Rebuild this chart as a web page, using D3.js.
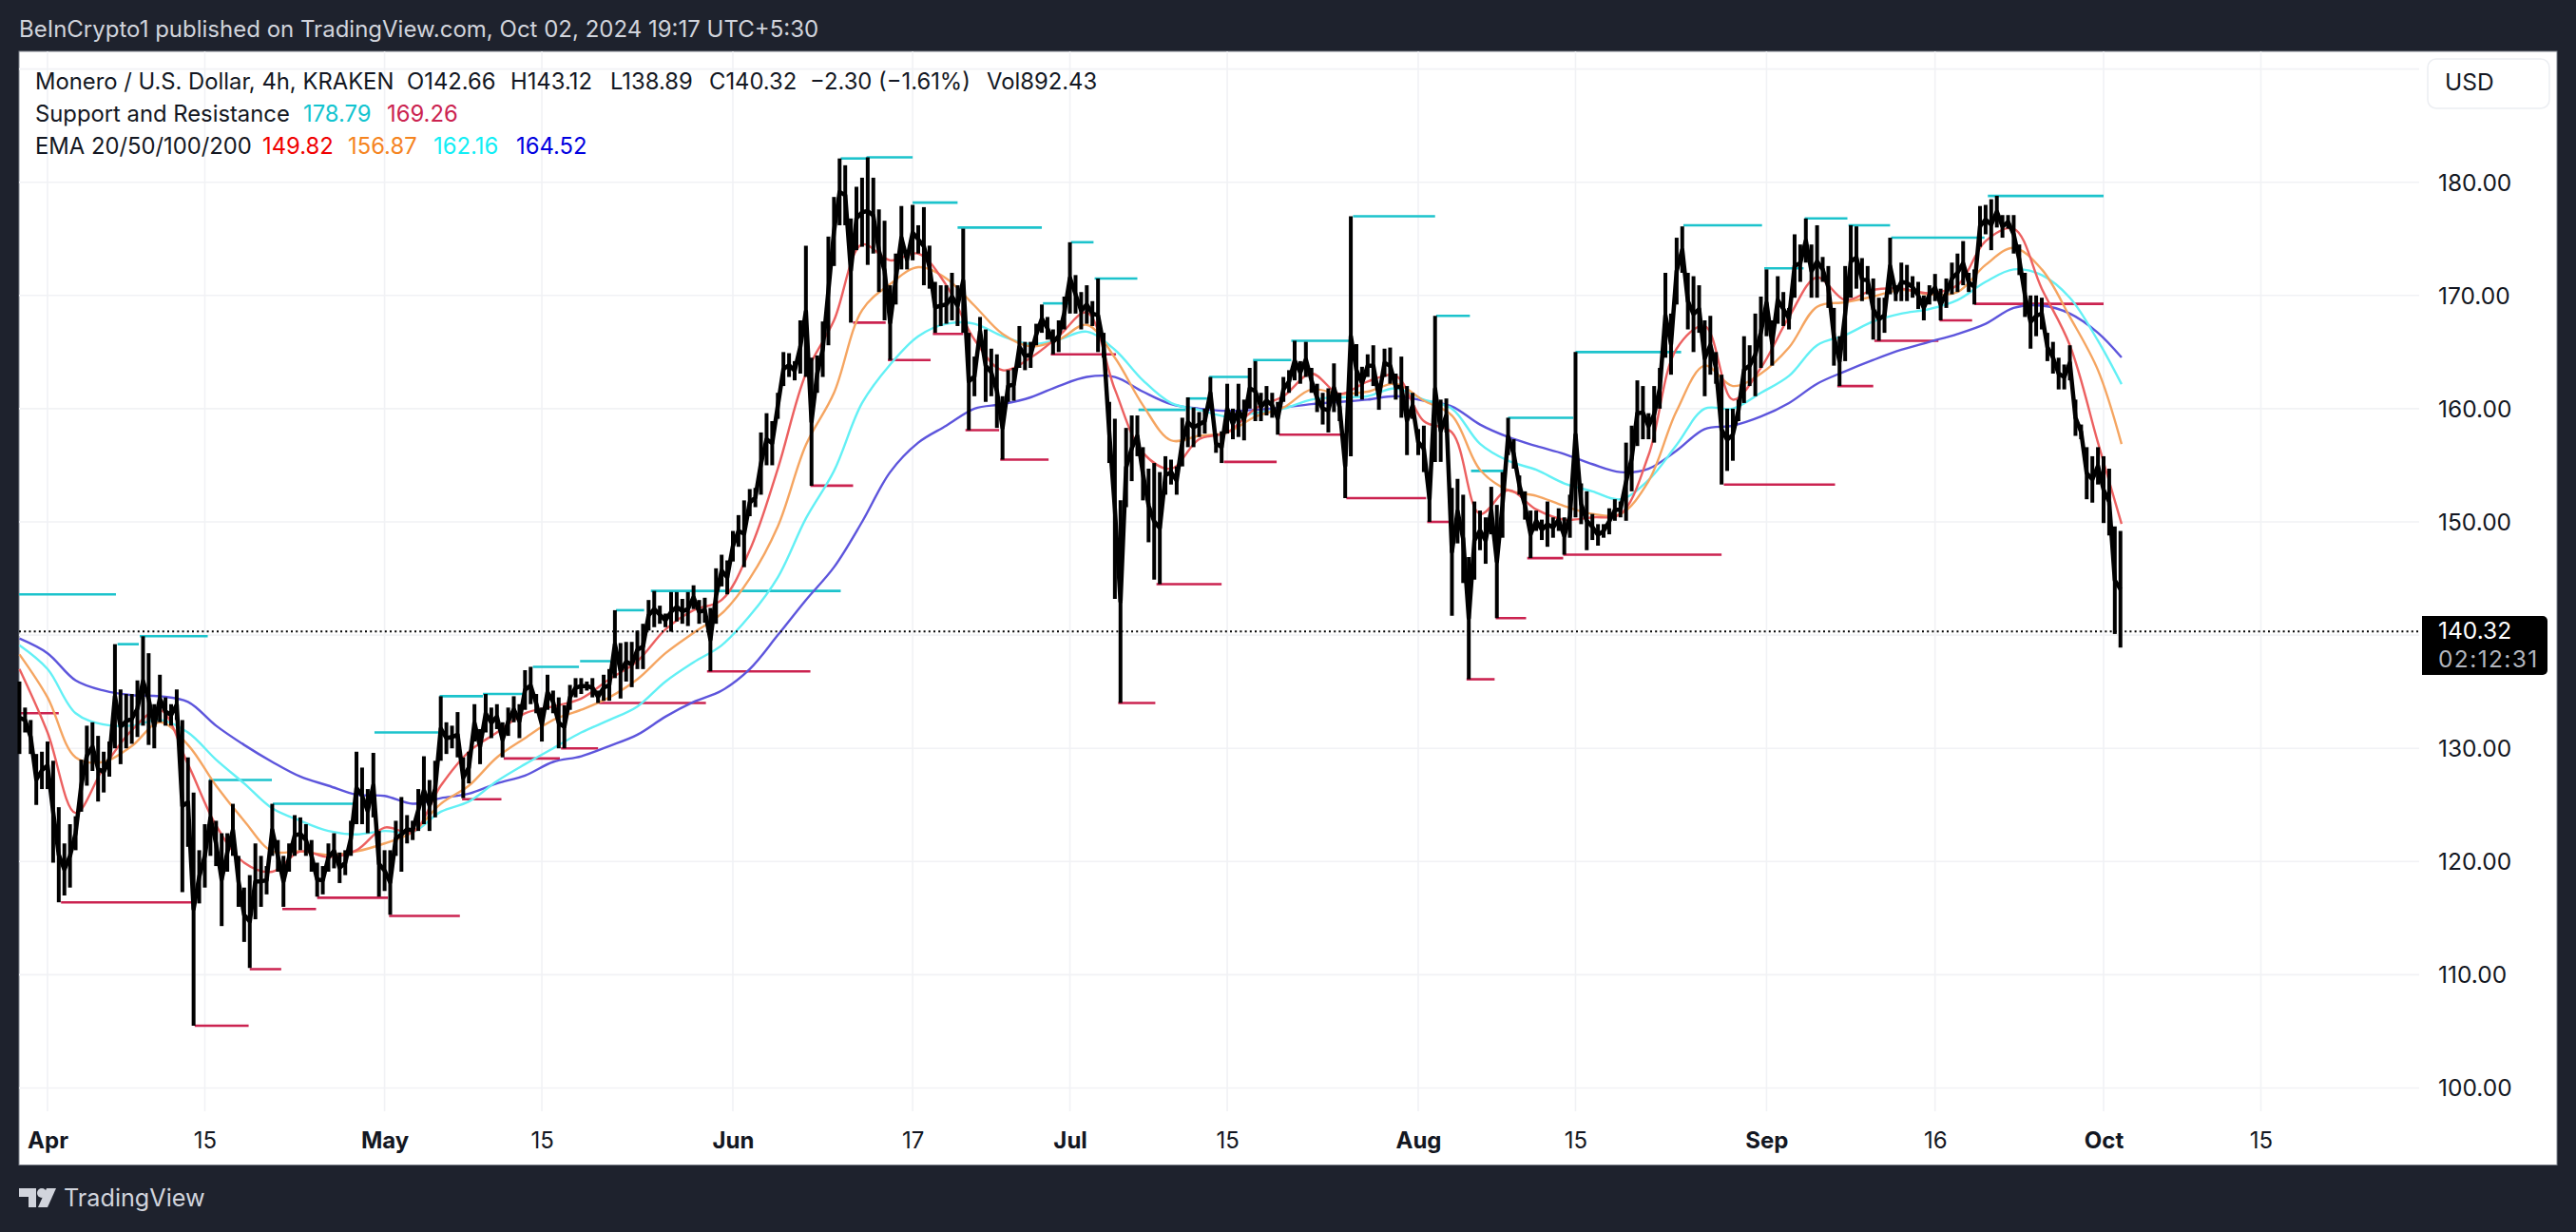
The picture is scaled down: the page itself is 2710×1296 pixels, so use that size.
<!DOCTYPE html>
<html><head><meta charset="utf-8">
<script src="https://cdn.jsdelivr.net/npm/d3@7/dist/d3.min.js"></script>
<style>html,body{margin:0;padding:0;background:#1e222d}svg{display:block}text{font-family:Inter,"Noto Sans",sans-serif}</style>
</head><body><div id="chart"></div>
<script>
// Axis labels
const priceTicks=[100,110,120,130,150,160,170,180];
const gridPrices=[100,110,120,130,140,150,160,170,180,190];
const timeTickDays=[0,14,30,44,61,77,91,105,122,136,153,168,183,197];
const timeTickLabels=["Apr","15","May","15","Jun","17","Jul","15","Aug","15","Sep","16","Oct","15"];
// 12-hour high/low readings, first bar 2.5 days before Apr 1
const barStartDay=-2.5, barStepDays=0.5;
const highs=[135.9,133.6,132.5,129.5,129.7,130.6,128.9,124.8,121.6,123.3,
124,129,132,132.3,131.1,129.7,130.6,139.2,135.2,134.8,
134.8,136,139.9,138.4,133.9,136.5,134.5,133.9,135.2,132.5,
129.2,126.1,121,123.3,127.2,123.6,122.5,122.5,125.1,120.5,
117.7,118.8,121.6,120.5,119.6,125.1,121.9,120.5,121.6,124.1,
123.9,123.3,121.9,119.9,119.6,121.6,122.5,120.8,121,123.6,
129.7,128.3,126.4,129.6,122.7,121,121,123.6,125.7,124.1,
123.6,126.4,129.3,127.2,128.9,134.6,132.3,132,133.2,129.2,
129.7,133.9,131.7,134.8,133.6,133.9,132.3,133.6,134.6,133.9,
136.9,137.2,134.8,133.6,136.5,135.1,134.5,133.8,135.6,136.2,
136.2,135.9,136.2,135.1,136.5,137,142.2,139.3,139.4,139.4,
140.4,141,143.1,143.9,142.6,141.9,143.8,143.8,143.2,143.8,
144.4,143.1,143.3,142.4,145.9,147.1,146.6,149.2,150.6,151.9,
152.9,153,157.9,159.6,158.9,161.4,165,164.9,164.2,167.8,
174.4,164.5,164.7,167.7,175.2,178.7,182.1,181.5,176.8,179.6,
180.4,182.2,180.4,177.6,176.6,170.9,173.7,177.9,174,178,
176.2,177.8,174.4,171.2,170.9,170.9,172,170.9,175.9,166.7,
164.6,168.1,167,165.3,164.8,161.1,163.4,163.6,167.3,165.9,
165.9,167.5,169.2,168.1,167,167.8,169.9,174.7,171.8,170.3,
170.9,169.5,171.5,166.7,160.6,159.1,151.9,158.3,159.4,159.4,
156.6,154.7,155.2,154.4,155.8,155.5,154.9,159.2,161,160.1,
159.7,160,162.8,157.8,158,162.2,160,162.2,160.8,163.6,
164.2,161.4,162,161.4,160.6,162.8,163.4,166,164.2,165.9,
163.6,162.2,161.4,161.8,164,161.4,157.8,177,165.7,163.7,
164.8,165.6,162.2,165.3,165.4,163.1,164.6,162,161.4,158.2,
158.5,154.1,168.2,160.8,160.9,153,153.8,152.4,146.9,151.8,
151,150.4,153.1,151.5,154.4,159.2,157.3,154.1,152.7,151,
151,150.2,151.8,150.4,151.2,150.4,152.4,165,153.4,152.7,
150.7,149.8,149.8,151.2,152,151.8,157,158.5,162.5,162,
159.6,162,163.6,172,168.4,175.1,176.1,172,171.7,170.9,
167.8,168.2,165,163,160,160,160.8,166.4,165.6,168.4,
169.9,172.3,167.8,171.7,170.3,168.9,175.4,174.5,176.8,174.5,
176.2,173.4,172.6,168.9,166.4,172.6,176.2,176.1,173.3,172.6,
171.5,169.8,169.8,175.1,170.9,172.9,172.7,171.7,171.2,170,
170.9,171.9,170.6,171.5,172.9,173.7,174.8,172,172.3,177.9,
178,178.5,178.8,177.1,177.1,177.1,174.5,172,170,170,
169.8,166.7,165.9,164.5,163.9,165.6,160.8,158.6,156.6,155.8,
156.6,155.8,154.7,149.6,149.2];
const lows=[129.5,131.4,129.5,125,126.4,126.4,119.9,116.4,117,117.7,
121,124.4,126.7,128,125.3,126.1,127.5,130,128.6,130,
130.4,131,132,130.3,130,132.3,132,132,132.5,117.3,
121.3,105.5,116.3,117.7,120.5,119.6,114.3,119.1,120.5,116,
112.9,110.6,114.9,116,117.1,120.5,119.1,116,119.1,120.5,
121,120.5,119.1,116.9,117.1,119.1,119.4,118.1,118.8,120.5,
123.3,123.3,122.5,123.9,116.9,117.4,115.3,120.5,119.1,121.6,
121.9,122.7,123.3,122.7,123.9,128.9,129.5,130,129.2,125.6,
126.9,130.6,128.6,131.4,130.9,131.7,129.2,131.1,132.3,130.9,
133.4,133.9,133.1,130.6,133.4,133.1,130,130,133.4,134.5,
134.8,135.1,134.5,134,134.2,134.2,136.2,134.4,135.9,135.4,
137,137,140.4,140.7,141,140.7,140.3,141.2,141,140.8,
142.3,141,141.1,136.8,141,144.3,143.6,146.5,147.8,146,
150.5,151.3,152.4,155,155,159.1,162,162.8,162.5,163.1,
162.8,153.2,161.4,162.8,165.6,172.6,176.2,176.2,167.6,174,
174.3,172.7,173.7,170.3,167.8,164.3,169.2,172.3,172.3,173.1,
173.7,170.9,170.6,166.7,167.3,167.5,167.8,167.3,166.7,158.1,
161.1,165.6,160.6,161.1,158.3,155.5,160.6,160.7,163.6,163.4,
163.6,165.6,166.7,166.1,164.8,165,167,168.4,168.4,167,
167.5,167.3,165,164.5,155.2,143.2,134,151.3,153.6,155.8,
151.9,148.2,144.9,144.5,152.4,153.3,152.4,154.9,156.6,156.6,
157.5,157.8,160,156.1,155.2,157.8,157.3,157.5,157.2,160,
158.9,158.9,159.4,159.2,157.7,160.6,161.4,162.5,162.2,162.8,
161.4,159.7,158.6,157.9,159.7,158.9,152.1,155.8,161.1,160.8,
162.8,162,159.9,162.8,162.2,160.8,159.2,155.9,159.1,155.9,
154.4,150,155.3,155.3,157.9,141.7,148.1,144.6,136.1,144.9,
147.5,146.3,148.9,141.5,148.6,155.9,154.7,152.4,150.2,146.8,
149.2,148.4,147.8,148.6,149.2,147.1,148.6,150.4,149.8,147.5,
148.4,147.9,148.6,148.9,150.1,150.4,150.1,152.7,156.7,157.3,
157.3,157,160,164.5,163,169.2,172,167,165,166.7,
161.1,163,162.2,153.3,154.5,155.4,158.9,160.5,162,161.1,
163.6,166.4,163.8,167.5,167.3,167,169.8,171.2,172.9,169.8,
169.8,171.2,168.9,163.8,162,164.2,169.8,170.6,169.5,170.1,
166.1,166,166.7,170.1,169.5,169.5,169.5,169.8,168.8,167.8,
169.2,169.5,167.8,168.9,170.1,170.3,170.9,170.3,169.2,174.3,
175.4,174,176,175.1,175.9,173.7,171.8,168.1,165.3,166.4,
167,164.2,163.1,161.7,161.7,162.5,157.6,157.3,152,151.7,
153.3,149.9,148.8,140.1,138.9];
const lastClose=140.32;
// Moving averages read every 2.5 days, with the final reading at day 184.6
const emaDays=[-2.5,0,2.5,5,7.5,10,12.5,15,17.5,20,22.5,25,27.5,30,32.5,35,37.5,40,42.5,45,47.5,50,52.5,55,57.5,60,62.5,65,67.5,70,72.5,75,77.5,80,82.5,85,87.5,90,92.5,95,97.5,100,102.5,105,107.5,110,112.5,115,117.5,120,122.5,125,127.5,130,132.5,135,137.5,140,142.5,145,147.5,150,152.5,155,157.5,160,162.5,165,167.5,170,172.5,175,177.5,180,182.5,184.6];
const ema20=[137,131.4,124.3,128.3,131.6,133.4,128.6,123.2,119.9,119.1,120.9,120.4,121,123,122.6,126.7,129.7,131.4,133.1,133.7,134.4,136.1,137.7,140.5,142.2,143.1,147.5,154.7,163.1,167.8,174.5,173.1,173.7,170.9,166.1,163.4,164.5,166.4,168.5,161.7,156.1,154.7,157.3,157.9,160,161.1,163.1,161.3,162.4,162.9,158.9,157.9,150.7,152.8,151.1,150.2,150.4,150.7,155.9,165.3,167.3,160.8,163.6,168.1,171.6,169.6,170.5,170.6,170.2,170.9,174.8,175.9,170.6,165.6,157,149.82];
const ema50=[138.3,134.5,129.2,128.8,130.2,132.3,130.3,126.7,123.6,120.9,120.9,120.6,120.9,121.6,122.6,125.1,126.7,129.2,130.9,132.5,133.4,134.5,136.1,138.4,140.2,141.9,145,149.6,156.8,161.4,168.7,171,172.5,171.5,169.1,166.6,165.5,166.1,167.4,164.5,160.3,157.2,157.6,157.9,159.3,160.1,161.7,161.3,161.5,162.2,160.7,159.4,154.6,152.8,152.3,151.4,150.7,150.7,153.6,159.8,163.8,162,163.1,165.4,169,169.4,169.9,170.5,170.1,170.3,172.7,174.2,172.3,168.1,163.4,156.87];
const ema100=[139.1,137,133.1,132.1,132,132.5,131.4,129,126.9,124.7,123.6,122.7,122.4,122.7,122.6,124.4,125.3,127.1,128.6,130,131.4,132.5,133.7,135.9,137.6,139.1,141.7,145.1,150.3,154.5,160.5,163.9,166.4,167.5,167.5,166.4,165.7,166.1,166.8,165.2,162.5,160.5,159.9,159.3,159.6,160,160.8,161,161.1,161.8,160.8,160,156.9,155.4,154.6,153.4,152.7,152,153.7,156.8,160,160,161.4,162.9,165.6,166.5,167.7,168.4,168.8,169.6,171.2,172.3,171.8,169.8,166,162.16];
const ema200=[139.7,138.4,136,135.1,134.7,134.6,134.1,132,130.3,128.8,127.5,126.7,125.9,125.8,125.1,125.6,126,126.9,127.6,128.8,129.3,130.2,131.2,132.8,134.1,135.1,137,140,143.1,146,150,154.4,157,158.5,160,160.4,161,162,162.8,162.8,161.5,160.4,160,159.8,159.9,160.1,160.4,160.6,160.8,161.1,160.7,160.2,158.6,157.5,156.7,156,155.1,154.4,154.7,156.3,158.2,158.5,159.3,160.5,162.2,163.3,164.3,165.2,165.9,166.6,167.5,168.9,169.1,168.4,166.7,164.52];
// Support and resistance steps: start day, end day, level
const resStart=[-2.54,6.23,8.21,14.38,20.05,29.1,34.9,38.75,43.2,47.4,50.6,53.7,70.6,72.9,77,81,88.6,91.1,93.2,97.1,101.4,103.4,107.3,110.7,116.2,123.6,126.7,130,136,145.6,152.8,156.4,160.3,164.1,172.7];
const resEnd=[6.09,8.12,14.26,19.97,27.66,34.77,38.75,42.3,47.3,50.1,53.1,70.6,72.9,77,81,88.5,91,93.1,97,101.3,103.2,106.9,110.7,116.1,123.5,126.6,129.7,135.8,145.4,152.6,156.3,160.2,164,172.4,183];
const resLevel=[143.6,139.2,139.9,127.2,125.1,131.4,134.6,134.8,137.2,137.7,142.2,143.9,182.1,182.2,178.2,176,169.3,174.7,171.5,159.9,160.9,162.8,164.3,166,177,168.2,154.5,159.2,165,176.2,172.4,176.8,176.2,175.1,178.79];
const supStart=[-2.54,1.2,13.1,18,20.9,24,30.4,36.9,40.6,45.7,49.1,58.7,67.9,71.7,74.8,78.8,81.7,84.8,89.3,95.3,98.7,104.7,109.6,115.6,122.8,126.3,128.9,131.7,134.9,149.2,159.3,162.6,168.4,171.5];
const supEnd=[1,12.9,17.9,20.8,23.9,30.3,36.7,40.4,45.6,49,58.6,67.9,71.7,74.6,78.6,81.5,84.7,89.1,95.1,98.6,104.5,109.4,115.4,122.7,124.8,128.8,131.6,134.9,149,159.1,162.5,168.3,171.3,183];
const supLevel=[133.1,116.4,105.5,110.5,115.8,116.8,115.2,125.5,129.1,130,134,136.8,153.2,167.6,164.3,166.6,158.1,155.5,164.8,134,144.5,155.3,157.7,152.1,150,136.1,141.5,146.8,147.1,153.3,162,166,167.8,169.26];

const W=2710,H=1296;
const BG="#1e222d",INK="#131722",GRID="#f1f2f5";
const panel={l:20,r:2690,t:54,b:1225.5},plotR=2545,plotB=1169;
const x=d3.scaleLinear().domain([0,183]).range([50,2213]);
const y=d3.scaleLinear().domain([100,180]).range([1144.5,191.7]);
const svg=d3.select("#chart").append("svg").attr("width",W).attr("height",H).attr("viewBox",`0 0 ${W} ${H}`);
svg.append("rect").attr("width",W).attr("height",H).attr("fill",BG);
svg.append("rect").attr("x",panel.l).attr("y",panel.t).attr("width",panel.r-panel.l).attr("height",panel.b-panel.t)
  .attr("fill","#fff").attr("stroke","#7d828c").attr("stroke-width",1);

// grid
svg.append("g").selectAll("line").data(gridPrices).join("line")
  .attr("x1",panel.l).attr("x2",plotR).attr("y1",d=>y(d)).attr("y2",d=>y(d)).attr("stroke",GRID).attr("stroke-width",1.6);
svg.append("g").selectAll("line").data(timeTickDays).join("line")
  .attr("x1",d=>x(d)).attr("x2",d=>x(d)).attr("y1",panel.t).attr("y2",plotB).attr("stroke",GRID).attr("stroke-width",1.6);

// axes
const yAxis=d3.axisRight(y).tickValues(priceTicks).tickSize(0).tickPadding(0).tickFormat(d3.format(".2f"));
const yG=svg.append("g").attr("transform","translate(2565,0)").call(yAxis);
yG.select(".domain").remove();
yG.selectAll("text").attr("font-size",24.5).attr("fill",INK).style("font-family","Inter").attr("dy",".34em");
const xAxis=d3.axisBottom(x).tickValues(timeTickDays).tickSize(0).tickPadding(0).tickFormat((d,i)=>timeTickLabels[i]);
const xG=svg.append("g").attr("transform","translate(0,1192)").call(xAxis);
xG.select(".domain").remove();
xG.selectAll("text").attr("font-size",24).attr("fill",INK).attr("dy",".0em").attr("dominant-baseline","middle")
  .attr("y",9).attr("font-weight",(d,i)=>/^[A-Z]/.test(timeTickLabels[i])?700:400).style("font-family","Inter");

// support & resistance
const seg=(g,st,en,lv,c)=>g.selectAll("line").data(lv.map((v,i)=>({a:st[i],b:en[i],v}))).join("line")
  .attr("x1",d=>x(d.a)).attr("x2",d=>x(d.b)).attr("y1",d=>y(d.v)).attr("y2",d=>y(d.v)).attr("stroke",c).attr("stroke-width",2.6);
seg(svg.append("g"),resStart,resEnd,resLevel,"#1cc3cc");
seg(svg.append("g"),supStart,supEnd,supLevel,"#cb2350");

// EMAs
const emaLine=vals=>d3.line().x((d,i)=>x(emaDays[i])).y(d=>y(d)).curve(d3.curveCatmullRom.alpha(0.5))(vals);
[[ema200,"#5d55dc"],[ema100,"#63f0f5"],[ema50,"#f5a561"],[ema20,"#ec6060"]].forEach(([v,c])=>
  svg.append("path").attr("d",emaLine(v)).attr("fill","none").attr("stroke",c).attr("stroke-width",2.4));

// price bars
const barDay=i=>barStartDay+i*barStepDays;
svg.append("path").attr("fill","none").attr("stroke","#000").attr("stroke-width",4.5).attr("stroke-linejoin","round")
  .attr("d",d3.line().x((d,i)=>x(barDay(i))).y((d,i)=>y((highs[i]+lows[i])/2))(highs));
svg.append("g").selectAll("line").data(highs).join("line")
  .attr("x1",(d,i)=>x(barDay(i))).attr("x2",(d,i)=>x(barDay(i)))
  .attr("y1",d=>y(d)).attr("y2",(d,i)=>y(lows[i])).attr("stroke","#000").attr("stroke-width",4);

// last price line
svg.append("line").attr("x1",panel.l).attr("x2",plotR).attr("y1",y(lastClose)).attr("y2",y(lastClose))
  .attr("stroke","#000").attr("stroke-width",2).attr("stroke-dasharray","2 3.2");

// price badge
svg.append("path").attr("fill","#000").attr("d","M2548 648H2675a5 5 0 0 1 5 5V705a5 5 0 0 1-5 5H2548Z");
const T=(s,px,py,size,fill,w)=>svg.append("text").text(s).attr("x",px).attr("y",py).attr("font-size",size).attr("fill",fill)
  .attr("font-weight",w||400).attr("dominant-baseline","middle");
T("140.32",2565,665,24.5,"#fff");
T("02:12:31",2565,695,24.5,"#b2b5be").attr("letter-spacing",1.4);

// USD box
svg.append("rect").attr("x",2554).attr("y",62).attr("width",128).attr("height",52).attr("rx",9).attr("fill","#fff").attr("stroke","#eceef2").attr("stroke-width",1.5);
T("USD",2572,88,24.5,INK);

// header and legend
T("BeInCrypto1 published on TradingView.com, Oct 02, 2024 19:17 UTC+5:30",20,32,24,"#d1d4dc");
const R1=87,R2=121,R3=155,FS=23.8;
T("Monero / U.S. Dollar, 4h, KRAKEN",37,R1,FS,INK);
T("O142.66",428,R1,FS,INK);T("H143.12",537,R1,FS,INK);T("L138.89",642,R1,FS,INK);T("C140.32",746,R1,FS,INK);
T("\u22122.30 (\u22121.61%)",852,R1,FS,INK);T("Vol892.43",1038,R1,FS,INK);
T("Support and Resistance",37,R2,FS,INK);T("178.79",319,R2,FS,"#12c4cf");T("169.26",407,R2,FS,"#cb2350");
T("EMA 20/50/100/200",37,R3,FS,INK);T("149.82",276,R3,FS,"#f00000");T("156.87",366,R3,FS,"#f5841f");T("162.16",456,R3,FS,"#10eef5");T("164.52",543,R3,FS,"#0000e0");

// footer logo
const logo=svg.append("g").attr("fill","#d1d4dc");
logo.append("path").attr("d","M20 1250H38V1270H30V1259H20Z");
logo.append("circle").attr("cx",44).attr("cy",1255).attr("r",5);
logo.append("path").attr("d","M49 1250H59L50 1270H40Z");
T("TradingView",67,1262,25.2,"#d1d4dc");
</script></body></html>
